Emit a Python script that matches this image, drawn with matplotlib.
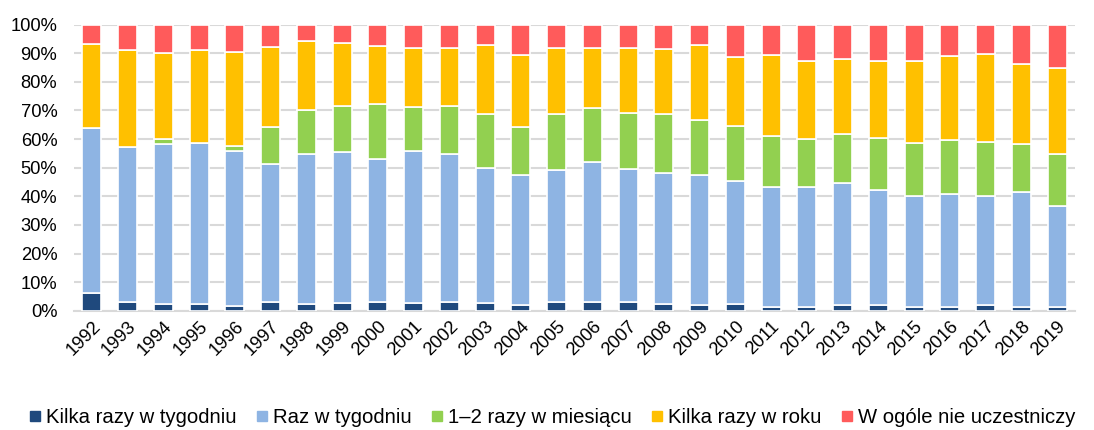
import matplotlib
matplotlib.use('Agg')
import matplotlib.pyplot as plt
from matplotlib.lines import Line2D
from matplotlib.ticker import PercentFormatter

plt.rcParams['font.family'] = ['Liberation Sans', 'DejaVu Sans']

years = [str(y) for y in range(1992, 2020)]

# shares (%) for each answer
kilka_tyg = [6.1, 3.1, 2.2, 2.5, 1.6, 3.0, 2.2, 2.6, 3.0, 2.6, 2.9, 2.6, 1.9, 3.1,
             3.0, 3.0, 2.2, 2.1, 2.5, 1.2, 1.4, 2.1, 1.9, 1.2, 1.2, 1.9, 1.3, 1.3]
raz_tyg = [57.7, 54.2, 56.0, 56.0, 54.2, 48.3, 52.6, 52.8, 50.0, 53.4, 52.0, 47.2, 45.5, 46.1,
           48.9, 46.5, 46.0, 45.3, 42.7, 41.9, 41.7, 42.4, 40.2, 38.9, 39.5, 38.2, 40.1, 35.4]
raz_mies = [0.0, 0.0, 1.8, 0.0, 1.8, 12.8, 15.4, 16.1, 19.2, 15.3, 16.7, 19.0, 16.7, 19.6,
            18.9, 19.6, 20.5, 19.2, 19.3, 18.1, 16.9, 17.4, 18.3, 18.5, 19.0, 19.0, 16.9, 18.1]
kilka_rok = [29.3, 33.8, 30.2, 32.6, 33.0, 28.0, 24.1, 22.2, 20.2, 20.7, 20.1, 24.0, 25.2, 22.9,
             20.9, 22.9, 22.7, 26.3, 24.1, 28.1, 27.3, 26.1, 26.9, 28.7, 29.2, 30.7, 27.8, 30.1]
wcale = [6.9, 8.9, 9.8, 8.9, 9.4, 7.9, 5.7, 6.3, 7.6, 8.0, 8.3, 7.2, 10.7, 8.3,
         8.3, 8.0, 8.6, 7.1, 11.4, 10.7, 12.7, 12.0, 12.7, 12.7, 11.1, 10.2, 13.9, 15.1]

labels = ['Kilka razy w tygodniu', 'Raz w tygodniu', '1\u20132 razy w miesiącu',
          'Kilka razy w roku', 'W ogóle nie uczestniczy']
colors = ['#1F497D', '#8EB4E3', '#92D050', '#FFC000', '#FF5B5B']
series = [kilka_tyg, raz_tyg, raz_mies, kilka_rok, wcale]

fig = plt.figure(figsize=(10.94, 4.30), dpi=100)
ax = fig.add_axes([0.0676, 0.2774, 0.915, 0.6652])

x = range(len(years))
bottom = [0.0] * len(years)
for vals, col in zip(series, colors):
    ax.bar(x, vals, bottom=bottom, width=0.53, color=col, edgecolor='white', linewidth=1.2, zorder=3)
    bottom = [b + v for b, v in zip(bottom, vals)]

ax.set_xlim(-0.5, len(years) - 0.5)
ax.set_ylim(0, 100)
ax.set_yticks(range(0, 101, 10))
ax.yaxis.set_major_formatter(PercentFormatter(decimals=0))
ax.grid(axis='y', color='#D9D9D9', linewidth=1.5, zorder=0)
for s in ['top', 'right', 'left']:
    ax.spines[s].set_visible(False)
ax.spines['bottom'].set_color('#D9D9D9')
ax.spines['bottom'].set_linewidth(1.5)
ax.tick_params(axis='both', length=0, labelsize=13.2, colors='black')
ax.tick_params(axis='y', pad=12)
ax.tick_params(axis='x', pad=5)
ax.set_xticks(list(x))
ax.set_xticklabels(years, rotation=45, ha='right', rotation_mode='anchor')

handles = [Line2D([], [], marker='s', linestyle='none', markersize=7, color=c) for c in colors]
fig.legend(handles, labels, loc='center', bbox_to_anchor=(0.505, 0.03), ncol=5, frameon=False,
           fontsize=14.6, handlelength=0.5, handletextpad=0.3, columnspacing=1.0)

fig.savefig('out.png', dpi=100)
